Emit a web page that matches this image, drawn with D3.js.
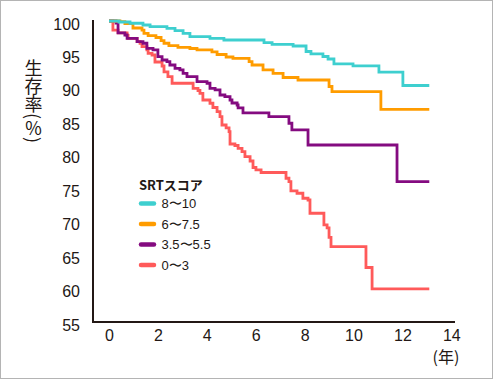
<!DOCTYPE html>
<html><head><meta charset="utf-8">
<script src="https://cdn.jsdelivr.net/npm/d3@7"></script>
<style>
html,body{margin:0;padding:0;background:#fff;}
svg{display:block;}
</style></head>
<body>
<svg id="chart" width="493" height="379"></svg>
<script>
// ---- data ----
const seriesNames = ["8〜10", "6〜7.5", "3.5〜5.5", "0〜3"];
const seriesColors = ["#3ecfcf", "#ff9c00", "#840b80", "#ff5a5a"];
const endTime = 13.1;
const s1Times = [0, 0.41, 0.86, 1.39, 1.68, 2.37, 2.70, 3.03, 3.31, 4.13, 4.70, 6.34, 6.67, 7.53, 8.06, 8.26, 8.75, 8.96, 9.20, 9.98, 11.04, 12.02];
const s1Vals  = [100, 99.85, 99.66, 99.40, 99.15, 98.91, 98.55, 98.16, 97.65, 97.41, 97.16, 96.76, 96.52, 96.26, 95.44, 95.10, 94.69, 94.32, 93.60, 93.30, 92.35, 90.36];
const s2Times = [0, 0.45, 0.65, 0.98, 1.35, 1.43, 1.60, 1.92, 2.13, 2.25, 2.45, 2.82, 3.31, 3.60, 4.21, 4.42, 4.79, 5.07, 5.73, 5.85, 6.30, 6.71, 7.12, 7.73, 9.00, 9.12, 11.12];
const s2Vals  = [100, 99.90, 99.63, 98.95, 98.65, 98.16, 97.80, 97.53, 97.06, 96.67, 96.31, 96.07, 95.89, 95.67, 95.37, 94.99, 94.62, 94.42, 93.92, 93.42, 92.68, 92.18, 91.55, 91.18, 90.21, 89.43, 86.80];
const s3Times = [0, 0.29, 0.37, 0.65, 0.74, 1.15, 1.39, 1.55, 1.80, 2.00, 2.17, 2.37, 2.49, 2.70, 2.90, 3.03, 3.19, 3.60, 4.01, 4.13, 4.34, 4.54, 4.74, 4.95, 5.03, 5.24, 5.28, 5.48, 6.54, 7.36, 7.48, 8.14, 11.78];
const s3Vals  = [100, 99.70, 98.21, 97.91, 97.41, 96.91, 96.67, 95.92, 95.67, 94.66, 94.17, 93.92, 93.42, 92.93, 92.68, 92.18, 91.67, 90.93, 90.69, 89.94, 89.69, 88.94, 88.68, 88.19, 87.74, 87.44, 87.00, 86.25, 85.70, 84.71, 83.71, 81.46, 75.98];
const s4Times = [0, 0.16, 0.37, 0.74, 0.78, 1.15, 1.27, 1.35, 1.55, 1.60, 1.76, 1.88, 2.17, 2.25, 2.41, 2.58, 3.44, 3.64, 3.72, 3.84, 4.13, 4.25, 4.42, 4.54, 4.62, 4.79, 4.91, 4.95, 5.15, 5.28, 5.44, 5.56, 5.77, 5.89, 6.01, 6.22, 7.24, 7.36, 7.44, 7.69, 7.93, 8.14, 8.22, 8.79, 8.92, 9.00, 9.08, 10.51, 10.76];
const s4Vals  = [100, 98.65, 98.21, 97.83, 97.41, 96.91, 96.67, 96.16, 95.67, 95.17, 94.92, 93.87, 93.27, 92.38, 91.67, 90.69, 89.94, 89.61, 89.19, 88.19, 87.70, 87.07, 86.44, 85.70, 84.45, 84.01, 83.45, 81.61, 81.39, 80.97, 80.46, 79.72, 79.07, 78.10, 77.73, 77.35, 76.49, 75.98, 74.59, 74.25, 73.50, 73.24, 71.26, 69.51, 69.06, 67.64, 66.26, 63.15, 59.94];
const xTicks = [0, 2, 4, 6, 8, 10, 12, 14];
const yTicks = [55, 60, 65, 70, 75, 80, 85, 90, 95, 100];
const legendTitle = "SRTスコア";
const xUnit = "(年)";
const yTitle = "生存率(％)";

// ---- drawing ----
const svg = d3.select("#chart");
const ink = "#231815";
const latin = "'Liberation Sans', Arial, sans-serif";
const cjk = "'Noto Sans CJK JP', sans-serif";

svg.append("rect").attr("x", 0.5).attr("y", 0.5).attr("width", 492).attr("height", 378)
  .attr("fill", "#fff").attr("stroke", "#b4b4b4").attr("stroke-width", 1);

const x = d3.scaleLinear().domain([0, 14]).range([109, 451.3]);
const y = d3.scaleLinear().domain([55, 100]).range([322, 21]);

// axes labels
const gx = svg.append("g").attr("transform", "translate(0,322)")
  .call(d3.axisBottom(x).tickValues(xTicks).tickSize(0).tickPadding(8).tickFormat(d3.format("d")));
gx.select(".domain").remove();
gx.selectAll("text").attr("font-family", latin).attr("font-size", 16).attr("fill", ink);

const gy = svg.append("g").attr("transform", "translate(80,0)")
  .call(d3.axisLeft(y).tickValues(yTicks).tickSize(0).tickPadding(0).tickFormat(d3.format("d")));
gy.select(".domain").remove();
gy.selectAll("text").attr("font-family", latin).attr("font-size", 16).attr("fill", ink).attr("dy", "0.5em");

// axis lines
svg.append("line").attr("x1", 93).attr("x2", 93).attr("y1", 20).attr("y2", 323)
  .attr("stroke", ink).attr("stroke-width", 2);
svg.append("line").attr("x1", 92).attr("x2", 455).attr("y1", 322).attr("y2", 322)
  .attr("stroke", ink).attr("stroke-width", 2);

// unit label
svg.append("text").attr("x", 446).attr("y", 363).attr("text-anchor", "middle")
  .attr("font-family", cjk).attr("font-size", 16).attr("fill", ink).text(xUnit);

// y title (vertical writing)
svg.append("text").attr("x", 33.5).attr("y", 59)
  .style("writing-mode", "vertical-rl")
  .attr("font-family", cjk).attr("font-size", 18).attr("fill", ink).text(yTitle);

// curves
const allSeries = [[s1Times, s1Vals], [s2Times, s2Vals], [s3Times, s3Vals], [s4Times, s4Vals]];
const line = d3.line().x(d => x(d[0])).y(d => y(d[1])).curve(d3.curveStepAfter);
for (let i = allSeries.length - 1; i >= 0; i--) {
  const [ts, vs] = allSeries[i];
  const pts = ts.map((t, k) => [t, vs[k]]);
  pts.push([endTime, vs[vs.length - 1]]);
  svg.append("path").datum(pts).attr("d", line).attr("fill", "none")
    .attr("stroke", seriesColors[i]).attr("stroke-width", 2.8);
}

// legend
const lg = svg.append("g");
lg.append("text").attr("x", 139).attr("y", 185).attr("dy", "0.36em")
  .attr("font-family", cjk).attr("font-size", 13).attr("font-weight", "bold").attr("fill", ink).text(legendTitle);
seriesNames.forEach((n, i) => {
  const yy = 203.5 + i * 20.5;
  lg.append("line").attr("x1", 141).attr("x2", 154).attr("y1", yy).attr("y2", yy)
    .attr("stroke", seriesColors[i]).attr("stroke-width", 4.5).attr("stroke-linecap", "round");
  lg.append("text").attr("x", 161.5).attr("y", yy).attr("dy", "0.36em")
    .attr("font-family", latin).attr("font-size", 13).attr("fill", ink).text(n);
});
</script>
</body></html>
